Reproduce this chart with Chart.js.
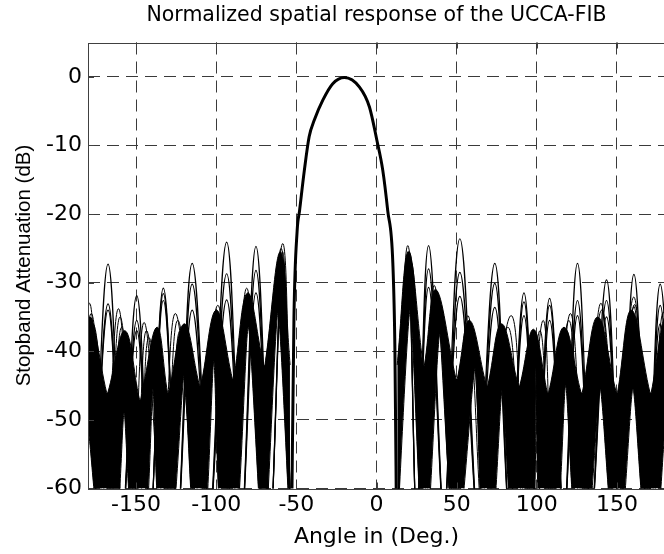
<!DOCTYPE html>
<html>
<head>
<meta charset="utf-8">
<script src="https://cdn.jsdelivr.net/npm/chart.js@4.4.1/dist/chart.umd.min.js"></script>
<style>
  html, body { margin: 0; padding: 0; background: #fff; }
  #quadro { width: 664px; height: 554px; overflow: hidden; }
  canvas { display: block; }
</style>
</head>
<body>
<div id="quadro"><canvas id="grafico" width="680" height="554"></canvas></div>
<script>
// eixos
const angleTicks = [-150, -100, -50, 0, 50, 100, 150];
const dbTicks = [0, -10, -20, -30, -40, -50, -60];

// lobulo principal (comum a todas as frequencias)
const mainAngles = [-53, -51.5, -49.5, -48, -45, -42, -38.8, -33.5, -27.3, -20, -10.6, -4.4, 0.2, 3.9, 7, 10.2, 11.5, 12.5];
const mainDb = [-66, -35, -22.4, -19.5, -13.6, -8.7, -6.3, -3.4, -1.0, -0.1, -1.5, -4.4, -9.2, -13.6, -19.5, -27.2, -40, -66];

// massa de lobulos laterais: contorno de cima (picos e vales)
const massTopDips = [-185, -168, -147.5, -130, -110, -89.5, -70, -53.5, 12.5, 29.5, 50, 69, 89, 107, 128, 150, 171, 187];
const massTopDipDb = [-48, -46, -47, -46, -45, -44, -42, -42, -42, -42, -44, -45, -45, -46, -46, -46, -46, -48];
const massTopAngles = [-179, -157, -137, -120, -100, -80.5, -60, null, 20, 37, 58, 78, 98, 117, 138, 159, 180.5];
const massTopDb = [-35, -37, -36.5, -36, -34, -31.5, -25.5, null, -25.5, -31, -35.5, -36, -36.8, -36.5, -35, -34, -35];

// massa: arcos de baixo (interior branco dos lobulos)
const innerLeftFeet = [-192, -162.5, -144, -127.5, -107, -87.5, -69, 13, 32, 52, 72.5, 97.5, 112.5, 132, 153, 175];
const innerAngles = [-181, -157.5, -139.5, -120, -101.5, -80, -61.5, 21, 39.5, 61.5, 78.5, 99.5, 118, 139.5, 160, 181];
const innerDb = [-50, -49, -45.5, -43.5, -41.5, -36.5, -34.5, -34, -37.5, -42.5, -45.5, -42.5, -45, -45.5, -45.5, -50];
const innerRightFeet = [-173, -152.5, -135.5, -114, -97, -72, -54, 28, 47, 66, 85, 102, 124, 147, 167.5, 192];

// curvas do topo da massa
const curveANulls = [-185, -170, -152, -134, -112, -90, -71, -53, 12.5, 29, 47.5, 66, 93, 110, 130, 150, 170, 188];
const curveAAngles = [-179, -161, -145, -125.5, -99, -81, -58.5, null, 19.5, 36, 57, 84, 104, 121, 140, 160.5, 179];
const curveADb = [-33, -33.8, -35.8, -34.5, -33.3, -30.8, -24.3, null, -24.6, -30.4, -34.8, -34.8, -35.5, -34.5, -33, -32.1, -34.3];

const curveBNulls = [-187, -168, -150, -132, -111, -91, -70.5, -53, 12.5, 30, 49, 68, 92, 109, 129, 151, 171, 190];
const curveBAngles = [-178, -160, -143.5, -124, -101, -80, -59.5, null, 20.5, 38, 58, 82, 102, 120, 140.5, 161, 180];
const curveBDb = [-34.5, -35, -37, -35.5, -35, -32.5, -25, null, -25.5, -32, -36, -36.5, -37, -35.5, -34, -33.2, -35.5];

const curveCNulls = [-189, -166, -148, -130, -109, -89, -70, -52.5, 12, 31, 50.5, 69.5, 90, 107, 127.5, 149, 172, 192];
const curveCAngles = [-177, -159, -142, -122.5, -102, -79, -61, null, 21.5, 40, 59.5, 80, 100, 118.5, 139, 159.5, 181];
const curveCDb = [-36, -36.5, -38, -37, -36.5, -34, -27, null, -27, -33.5, -37.5, -38, -38.5, -37, -35.5, -34.5, -36.5];

// curvas isoladas (lobulos mais altos)
const highNulls = [-177, -158.5, -141, -124, -104, -84, -66, -53, 12.5, 25, 42, 63, 83, 100, 117, 134, 152, 169, 186];
const highAngles = [-167.5, -149.6, -133, -115, -93.5, -75.2, -58.5, null, 19.5, 32.5, 52, 73.8, 92, 108, 125.4, 143.5, 160.6, 177];
const highDb1 = [-27.3, -31.9, -30.8, -27.2, -24.1, -24.7, -25.5, null, -25.5, -24.6, -23.6, -27.2, -31.5, -32.3, -27.2, -29.6, -28.8, -30.2];
const highDb2 = [-33.1, -35.5, -31.6, -30.2, -28.7, -28.2, -26.5, null, -26.5, -28, -28.5, -30.1, -32.8, -33.3, -32.6, -32.6, -33.5, -33.3];
const highDb3 = [-34, -37, -32.6, -34, -32.5, -31.5, -27.5, null, -27.5, -30.7, -32, -33.6, -34.8, -35.5, -34.8, -35, -35.5, -36];

const FUNDO = -66;   // nulos ficam abaixo do eixo
const PE = 0.4;      // meia largura do pe de cada nulo

function lobulos(nulos, angulos, niveis, nivelNulo) {
  const pts = [];
  angulos.forEach((a, i) => {
    if (a === null) { pts.push({ x: -20, y: null }); return; }
    const y0 = nivelNulo ? nivelNulo[i] : FUNDO;
    const y1 = nivelNulo ? nivelNulo[i + 1] : FUNDO;
    pts.push({ x: nulos[i] + PE, y: y0 }, { x: a, y: niveis[i] }, { x: nulos[i + 1] - PE, y: y1 });
  });
  return pts;
}

function arcosInternos() {
  const pts = [];
  innerAngles.forEach((a, i) => {
    pts.push({ x: innerLeftFeet[i], y: FUNDO }, { x: a, y: innerDb[i] }, { x: innerRightFeet[i], y: FUNDO });
  });
  return pts;
}

const topo = lobulos(massTopDips, massTopAngles, massTopDb, massTopDipDb);
const interno = arcosInternos();
const esq = pts => pts.filter(p => p.x < -20);
const dir = pts => pts.filter(p => p.x > -20);

function linha(data, largura, extra) {
  return Object.assign({ data, borderColor: '#000', backgroundColor: '#000', borderWidth: largura, pointRadius: 0, tension: 0.4, fill: false }, extra || {});
}

const datasets = [
  linha(esq(topo), 1, { fill: 1 }),
  linha(esq(interno), 1, { tension: 0.2 }),
  linha(dir(topo), 1, { fill: 3 }),
  linha(dir(interno), 1, { tension: 0.2 }),
  linha(lobulos(curveANulls, curveAAngles, curveADb), 1),
  linha(lobulos(curveBNulls, curveBAngles, curveBDb), 1),
  linha(lobulos(curveCNulls, curveCAngles, curveCDb), 1),
  linha(lobulos(highNulls, highAngles, highDb1), 1.2),
  linha(lobulos(highNulls, highAngles, highDb2), 1.2),
  linha(lobulos(highNulls, highAngles, highDb3), 1.2),
  linha(mainAngles.map((a, i) => ({ x: a, y: mainDb[i] })), 3, { cubicInterpolationMode: 'monotone' })
];

const fonteLarga = 'DejaVu Sans, Verdana, sans-serif';
const fonte = 'Liberation Sans, Arial, Helvetica, sans-serif';

const caixaEixos = {
  id: 'caixaEixos',
  afterDatasetsDraw(chart) {
    const { ctx, chartArea: a, scales: { x, y } } = chart;
    ctx.save();
    ctx.strokeStyle = '#404040';
    ctx.lineWidth = 1;
    ctx.setLineDash([]);
    ctx.strokeRect(Math.round(a.left) + 0.5, Math.round(a.top) + 0.5, a.right - a.left, Math.round(a.bottom - a.top));
    ctx.beginPath();
    angleTicks.forEach(v => {
      const px = Math.round(x.getPixelForValue(v)) + 0.5;
      ctx.moveTo(px, a.bottom); ctx.lineTo(px, a.bottom - 6);
      ctx.moveTo(px, a.top); ctx.lineTo(px, a.top + 6);
    });
    dbTicks.forEach(v => {
      const py = Math.round(y.getPixelForValue(v)) + 0.5;
      ctx.moveTo(a.left, py); ctx.lineTo(a.left + 6, py);
    });
    ctx.stroke();
    ctx.restore();
  }
};

new Chart(document.getElementById('grafico'), {
  type: 'line',
  data: { datasets },
  plugins: [caixaEixos],
  options: {
    responsive: false,
    animation: false,
    devicePixelRatio: 1,
    layout: { padding: { left: 0, right: 15, top: 0, bottom: 0 } },
    elements: { point: { radius: 0 }, line: { capBezierPoints: false } },
    plugins: {
      legend: { display: false },
      tooltip: { enabled: false },
      title: { display: false }
    },
    scales: {
      topo: {
        type: 'linear',
        position: 'top',
        min: -180,
        max: 180,
        afterFit: s => { s.height = 42.5; },
        ticks: { display: false },
        grid: { display: false, drawTicks: false },
        border: { display: false },
        title: { display: true, text: 'Normalized spatial response of the UCCA-FIB', color: '#000', font: { family: fonteLarga, size: 20.5 }, padding: { top: 3, bottom: 0 } }
      },
      x: {
        type: 'linear',
        min: -180,
        max: 180,
        afterBuildTicks: s => { s.ticks = angleTicks.map(v => ({ value: v })); },
        afterFit: s => { s.height = 65.5; },
        grid: { color: '#3a3a3a', lineWidth: 1, drawTicks: false },
        border: { display: false, dash: [12, 7] },
        ticks: { color: '#000', font: { family: fonteLarga, size: 22 }, padding: 4, maxRotation: 0, autoSkip: false, callback: v => String(v) },
        title: { display: true, text: 'Angle in (Deg.)', color: '#000', font: { family: fonteLarga, size: 22 }, padding: { top: 0, bottom: 4 } }
      },
      y: {
        min: -60,
        max: 5,
        afterBuildTicks: s => { s.ticks = dbTicks.map(v => ({ value: v })); },
        afterFit: s => { s.width = 88; },
        grid: { color: '#3a3a3a', lineWidth: 1, drawTicks: false },
        border: { display: false, dash: [12, 7] },
        ticks: { color: '#000', font: { family: fonteLarga, size: 22 }, padding: 6, autoSkip: false, callback: v => String(v) },
        title: { display: true, text: 'Stopband Attenuation (dB)', color: '#000', font: { family: fonte, size: 20.5 }, padding: { top: 12, bottom: 0 } }
      }
    }
  }
});
</script>
</body>
</html>
